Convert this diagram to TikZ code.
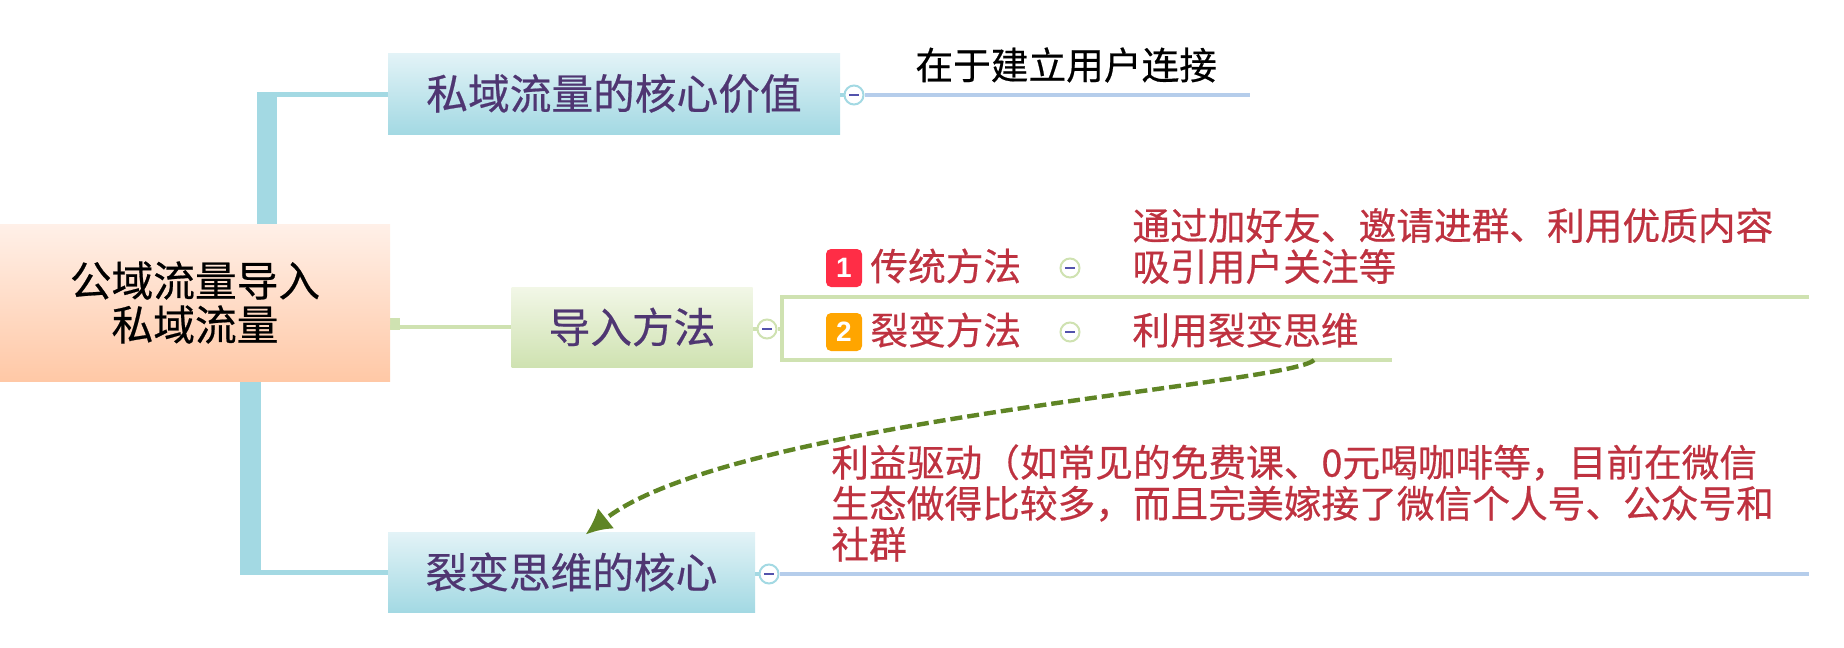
\documentclass[tikz,border=0pt]{standalone}
\usepackage{fontspec}
\usetikzlibrary{arrows.meta}
\setmainfont[FakeBold=0.5]{Noto Sans CJK SC}
\newfontfamily\badgefont{Liberation Sans}
\definecolor{topiclight}{HTML}{E3F3F7}
\definecolor{topicdark}{HTML}{A3D9E3}
\definecolor{rootlight}{HTML}{FFF0E8}
\definecolor{rootdark}{HTML}{FFC8A6}
\definecolor{leaflight}{HTML}{F2F7E7}
\definecolor{leafdark}{HTML}{CFE2B1}
\definecolor{topicink}{HTML}{4F3672}
\definecolor{leafink}{HTML}{BE3240}
\definecolor{bluerule}{HTML}{B5CDEB}
\definecolor{linkgreen}{HTML}{5F8525}
\definecolor{badgered}{HTML}{FF2D46}
\definecolor{badgeorange}{HTML}{FFA500}
\newcommand{\foldminus}{\textcolor{blue!35!gray}{\rule{5pt}{1pt}}}
\tikzset{
    topicbox/.style={inner sep=0pt, align=center, text=topicink, font=\fontsize{20.85}{22}\selectfont,
        top color=topiclight, bottom color=topicdark},
    leaftext/.style={inner sep=0pt, anchor=west, align=left, text=leafink, font=\fontsize{18.85}{20.5}\selectfont},
    foldmark/.style={circle, draw=#1, fill=white, line width=1pt, inner sep=0pt, minimum size=9.5pt},
    badge/.style={rounded corners=2.5pt, minimum width=18pt, minimum height=19pt, inner sep=0pt,
        text=white, font=\fontsize{14}{14}\selectfont\badgefont\bfseries},
}
\begin{document}
\begin{tikzpicture}[x=0.5pt,y=-0.5pt]
            \useasboundingbox (0,0) rectangle (1844,648);

            % Draw the thick branches
            \fill[topicdark] (257,224) rectangle (277,92);
            \fill[topicdark] (257,92) rectangle (388,97);
            \fill[topicdark] (240,381) rectangle (261,575);
            \fill[topicdark] (240,570) rectangle (388,575);
            \fill[leafdark] (390,318) rectangle (400,330);

            % Draw the boxes
            \node[topicbox, minimum width=195pt, minimum height=78.5pt, text=black,
                top color=rootlight, bottom color=rootdark] (root) at (195,302.5) {公域流量导入\\私域流量};
            \node[topicbox, minimum width=226pt, minimum height=40.5pt] (value) at (614,93.5) {私域流量的核心价值};
            \node[topicbox, minimum width=120.5pt, minimum height=40pt,
                top color=leaflight, bottom color=leafdark] (method) at (632,327) {导入方法};
            \node[topicbox, minimum width=183.5pt, minimum height=40pt] (core) at (571.5,572) {裂变思维的核心};
            \draw[leafdark, line width=2.4pt] (root.east |- method) -- (method);

            % Draw the fold marks and their lines
            \node[foldmark=topicdark] (foldvalue) at (854,95) {\foldminus};
            \node[foldmark=leafdark] (foldmethod) at (767,329) {\foldminus};
            \node[foldmark=topicdark] (foldcore) at (769,574) {\foldminus};
            \coordinate (valueend) at (1250,95);
            \coordinate (coreend) at (1809,574);
            \coordinate (bracket) at (782,329);
            \draw[topicdark, line width=2pt] (value.east |- foldvalue) -- (foldvalue);
            \draw[topicdark, line width=2pt] (core.east |- foldcore) -- (foldcore);
            \draw[leafdark, line width=2pt] (method.east |- foldmethod) -- (foldmethod);
            \draw[leafdark, line width=2pt] (foldmethod) -- (bracket);
            \draw[bluerule, line width=2pt] (foldvalue) -- (valueend);
            \draw[bluerule, line width=2pt] (foldcore) -- (coreend);
            \draw[leafdark, line width=2pt] (1809,297) -- (782,297) -- (782,360) -- (1392,360);

            % Draw the two methods
            \foreach \name/\y/\num/\col/\label in {one/268/1/badgered/传统方法, two/332/2/badgeorange/裂变方法} {
                \node[badge, fill=\col] (badge\name) at (844,\y) {\num};
                \node[leaftext] (text\name) at (870,\y-2) {\label};
                \node[foldmark=leafdark] (fold\name) at (1070,\y) {\foldminus};
            }

            % Draw the leaf texts
            \node[inner sep=0pt, anchor=west, font=\fontsize{18.85}{20.5}\selectfont] (link) at (915,65) {在于建立用户连接};
            \node[leaftext] (attract) at (1132,246) {通过加好友、邀请进群、利用优质内容\\吸引用户关注等};
            \node[leaftext] (split) at (1132,330) {利用裂变思维};
            \node[leaftext] (profit) at (831,503) {利益驱动（如常见的免费课、0元喝咖啡等，目前在微信\\生态做得比较多，而且完美嫁接了微信个人号、公众号和\\社群};

            % Draw the dashed link
            \coordinate (linkstart) at (1314,360);
            \draw[-{Latex[length=13pt,width=13pt]}, linkgreen, line width=2.2pt, dash pattern=on 6pt off 2.5pt]
                (linkstart) .. controls (1290,385) and (730,420) .. ([xshift=7pt,yshift=-1.5pt]core.north);
        \end{tikzpicture}
\end{document}
